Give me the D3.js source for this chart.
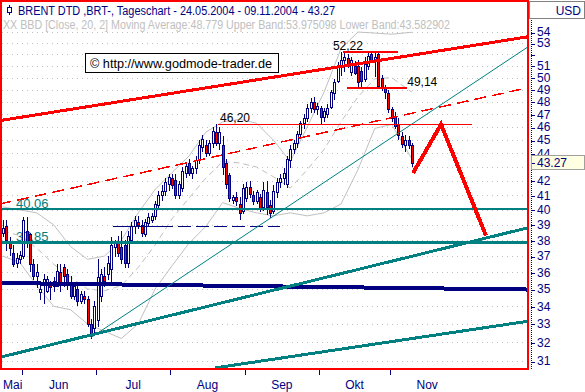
<!DOCTYPE html>
<html>
<head>
<meta charset="utf-8">
<script src="https://cdn.jsdelivr.net/npm/d3@7/dist/d3.min.js"></script>
<style>
html,body{margin:0;padding:0;background:#fff;}
svg{display:block;font-family:"Liberation Sans",Arial,Helvetica,sans-serif;}
</style>
</head>
<body>
<svg id="chart" width="585" height="392"></svg>
<script>
// ---------------- data ----------------
const title = "BRENT DTD ,BRT-, Tageschart - 24.05.2004 - 09.11.2004 - 43.27";
const subtitle = "XX BBD [Close, 20, 2] Moving Average:48.779 Upper Band:53.975098 Lower Band:43.582902";
const copyright = "\u00A9 http://www.godmode-trader.de";
const currency = "USD";
const lastPrice = 43.27;

// daily candles [open, high, low, close], 24.05.2004 .. 09.11.2004
const ohlc = [
[38.5,39.3,38.3,38.8],[38.9,39.3,37.4,38.0],[37.8,38.2,37.1,37.5],[37.2,37.7,36.4,36.5],[36.6,37.2,36.3,36.9],
[36.85,37.3,36.6,37.05],[37.0,39.5,36.9,39.3],[38.6,39.5,37.6,37.8],[38.4,38.5,36.1,36.5],[36.5,36.8,35.6,35.8],
[35.8,36.5,35.1,36.0],[34.85,35.4,34.4,35.0],[35.3,35.9,34.2,35.6],[34.9,35.8,34.8,35.6],[35.4,35.5,34.4,35.1],
[35.2,35.7,34.9,35.5],[35.2,36.5,35.2,36.1],[36.0,36.5,34.9,35.3],[36.3,36.5,35.2,35.8],[35.9,36.2,35.0,35.3],
[35.4,35.8,34.5,34.6],[34.6,35.4,34.4,35.2],[35.0,35.3,34.1,34.3],[34.3,34.9,34.2,34.7],[34.6,34.9,34.2,34.4],
[34.4,34.6,32.9,33.0],[33.0,33.3,32.25,32.4],[32.8,34.3,32.5,34.0],[33.2,36.8,32.9,35.7],[34.6,36.2,34.3,35.9],
[35.8,36.3,35.2,35.5],[35.9,37.0,35.6,36.6],[36.2,38.2,35.4,37.7],[37.6,38.0,37.0,37.8],[37.8,38.3,37.0,37.2],
[37.6,38.6,36.6,36.8],[37.7,38.0,36.3,36.6],[36.6,38.6,36.3,38.3],[38.0,39.2,37.8,38.9],[38.9,39.6,38.5,39.3],
[39.2,39.6,38.8,39.0],[39.0,39.3,38.3,38.5],[38.4,39.4,38.3,39.2],[39.1,39.8,38.9,39.5],[39.3,39.8,39.2,39.6],
[39.6,40.6,39.4,40.4],[40.3,41.3,40.1,41.0],[41.0,41.7,40.7,41.3],[41.3,42.2,41.0,41.9],[41.8,42.5,41.4,42.3],
[42.2,42.5,41.5,41.7],[42.1,42.5,40.8,41.0],[41.0,42.0,40.8,41.8],[41.5,43.0,41.3,42.7],[42.6,43.4,42.3,43.1],
[43.3,43.6,42.4,42.6],[42.6,43.1,42.2,42.9],[42.9,43.8,42.6,43.5],[43.5,45.0,43.3,44.6],[44.5,45.4,44.2,45.1],
[44.6,45.0,43.8,44.0],[44.0,45.0,43.9,44.8],[44.8,46.0,44.5,45.7],[45.6,46.2,44.6,44.8],[44.8,46.0,44.3,45.6],
[44.6,45.3,42.5,43.0],[43.3,43.6,41.5,41.8],[42.4,42.6,40.6,40.8],[40.7,41.0,40.5,40.9],[40.9,41.2,40.3,40.6],
[40.4,40.9,39.4,39.8],[39.9,41.8,39.8,41.5],[40.8,41.9,40.6,41.6],[41.6,42.0,40.9,41.1],[41.0,41.3,40.4,40.6],
[40.6,41.4,40.5,41.2],[40.9,41.1,39.9,40.1],[40.2,41.9,40.0,41.4],[41.2,42.0,39.7,40.2],[40.3,40.7,39.5,39.8],
[39.9,41.7,39.8,41.3],[41.2,42.2,40.9,41.9],[41.9,42.5,41.6,42.2],[42.2,42.9,41.8,42.6],[41.8,43.8,41.6,43.6],
[43.5,44.6,43.0,44.3],[44.3,45.0,44.0,44.8],[44.8,45.7,44.5,45.5],[45.5,46.5,45.2,46.3],[46.3,47.0,45.9,46.7],
[46.7,47.8,46.5,47.5],[47.5,48.3,47.2,48.0],[48.0,48.4,47.2,47.4],[47.4,47.9,47.0,47.7],[47.5,47.7,46.3,46.8],
[46.8,47.5,46.5,47.3],[47.0,47.8,46.8,47.5],[47.6,49.0,47.5,48.8],[48.7,49.9,48.2,49.6],[49.7,51.3,49.6,51.0],
[51.0,52.22,50.2,51.5],[51.5,52.1,50.6,51.8],[51.7,52.0,50.9,51.2],[50.5,51.8,50.2,51.5],[51.0,51.4,50.3,50.4],
[51.0,51.5,49.3,49.6],[50.6,50.9,49.3,49.7],[49.9,51.8,49.7,51.2],[51.0,52.2,50.7,51.9],[52.0,52.2,51.3,51.5],
[51.5,52.2,50.1,51.8],[52.0,52.2,49.1,49.3],[50.0,50.2,49.0,49.2],[49.1,49.4,48.3,48.8],[48.7,49.0,47.2,47.4],
[47.4,47.6,46.5,46.7],[46.8,47.2,45.9,46.1],[46.2,46.7,45.1,45.4],[45.3,45.6,44.5,44.7],[44.6,45.4,44.2,45.0],
[45.0,45.3,44.4,44.6],[44.6,44.8,43.1,43.27]
];

// Bollinger band (20, 2) at sparse bars
const bbIdx   = [0,    5,    10,   15,   20,   25,   30,   35,   40,   45,   50,   55,   60,   65,   70,   75,   80,   85,   90,   95,   100,  105,  110,  115,  121];
const bbUpper = [40.2, 40.0, 39.8, 39.0, 37.6, 36.8, 37.0, 38.0, 39.8, 41.4, 42.6, 43.8, 45.6, 46.4, 46.6, 46.3, 45.0, 43.4, 46.0, 48.8, 52.5, 54.0, 53.9, 53.8, 53.98];
const bbMid   = [38.6, 38.3, 37.5, 36.5, 35.7, 35.0, 34.9, 35.2, 36.3, 37.7, 39.4, 40.8, 42.2, 43.4, 43.3, 43.0, 42.3, 41.5, 42.8, 44.3, 46.4, 48.4, 49.9, 50.0, 48.78];
const bbLower = [37.0, 36.6, 35.2, 34.0, 33.8, 33.0, 32.6, 32.2, 33.0, 35.0, 36.4, 37.8, 38.9, 40.5, 40.1, 39.8, 39.6, 39.8, 39.6, 39.8, 40.4, 42.8, 45.9, 46.2, 43.58];

// price axis
const priceTicks = d3.range(31, 55);
const hiddenTickLabels = [52, 43];

// month axis (bar index)
const monthNames    = ["Mai", "Jun", "Jul", "Aug", "Sep", "Okt", "Nov"];
const monthLabelIdx = [0, 16.5, 38.5, 60.5, 82.5, 104, 125.5];
const monthTickIdx  = [5.5, 27.5, 49.5, 71.5, 93.5, 114.5];

// drawn lines: [bar index, price]
const redChannel     = [[-1, 46.5], [156, 53.6]];
const redDashed      = [[-1, 40.4], [156, 49.2]];
const tealThin       = [[26, 32.25], [156, 52.8]];
const tealLow        = [[-1, 31.19], [156, 38.85]];
const tealLow2       = [[62.7, 30.64], [156, 33.17]];
const navyAverage    = [[-1, 35.36], [156, 34.97]];
const projection     = [[121.3, 42.57], [129.6, 46.2], [142.9, 38.3]];

const redLevels      = [46.20, 52.22, 49.14];
const redLevelFrom   = [63.6, 100.6, 101.8];
const redLevelTo     = [138.8, 116.9, 119.5];
const redLevelText   = ["46,20", "52,22", "49,14"];
const redLabelIdx    = [64.2, 97.6, 119.6];

const tealLevels     = [40.06, 37.85];
const tealLevelText  = ["40.06", "37.85"];
const tealLevelWidth = [1.5, 3];

const navyDashLevel  = 38.88;
const navyDashSolid  = [32.5, 46.4];
const navyDashDashed = [46.4, 82];

// ---------------- drawing ----------------
const NAVY = "#000080", RED = "#ff0000", TEAL = "#008080", GRAY = "#c0c0c0";
const svg = d3.select("#chart");
const x = d3.scaleLinear().domain([0, 155]).range([3, 3 + 155 * 3.38]);
const y = d3.scaleLog().domain([31, 54]).range([361, 32]);
const px = v => Math.round(v) + 0.5;

svg.append("rect").attr("width", 585).attr("height", 392).attr("fill", "#fff");

svg.append("clipPath").attr("id", "clip")
  .append("rect").attr("x", 2).attr("y", 2).attr("width", 525).attr("height", 366);

const plot = svg.append("g").attr("clip-path", "url(#clip)");

// grid
plot.selectAll("line.grid").data(priceTicks).join("line")
  .attr("x1", 2).attr("x2", 527)
  .attr("y1", d => px(y(d))).attr("y2", d => px(y(d)))
  .attr("stroke", GRAY).attr("stroke-dasharray", "1,4");

// Bollinger bands
const lineIdx = (vals) => d3.line().x((d, i) => x(bbIdx[i])).y(d => y(d))(vals);
plot.append("path").attr("d", lineIdx(bbUpper)).attr("fill", "none").attr("stroke", GRAY);
plot.append("path").attr("d", lineIdx(bbLower)).attr("fill", "none").attr("stroke", GRAY);
plot.append("path").attr("d", lineIdx(bbMid)).attr("fill", "none").attr("stroke", GRAY).attr("stroke-dasharray", "6,4");

// teal level labels (behind candles)
plot.selectAll("text.tl").data(tealLevels).join("text")
  .attr("x", 16).attr("y", d => y(d) - 1.5)
  .attr("fill", TEAL).attr("font-size", 13).text((d, i) => tealLevelText[i]);

// candles
const cg = plot.append("g").attr("shape-rendering", "crispEdges");
ohlc.forEach((c, i) => {
  const [o, h, l, cl] = c;
  const cx = Math.round(x(i));
  cg.append("line").attr("x1", cx + 0.5).attr("x2", cx + 0.5)
    .attr("y1", Math.round(y(h))).attr("y2", Math.round(y(l)) + 1)
    .attr("stroke", NAVY);
  const top = Math.round(y(Math.max(o, cl))), bot = Math.round(y(Math.min(o, cl)));
  cg.append("rect").attr("x", cx - 0.5).attr("width", 2)
    .attr("y", top + 0.5).attr("height", Math.max(1, bot - top))
    .attr("fill", cl < o ? RED : "#fff").attr("stroke", NAVY);
});

// helper for [idx, price] lines
const pline = d3.line().x(d => x(d[0])).y(d => y(d[1]));
function drawLine(pts, color, width, dash, crisp) {
  const p = plot.append("path").attr("d", pline(pts)).attr("fill", "none")
    .attr("stroke", color).attr("stroke-width", width);
  if (dash) p.attr("stroke-dasharray", dash);
  if (crisp) p.attr("shape-rendering", "crispEdges");
  return p;
}

// horizontal teal levels
tealLevels.forEach((v, i) => {
  plot.append("line").attr("x1", 2).attr("x2", 527)
    .attr("y1", y(v)).attr("y2", y(v))
    .attr("stroke", TEAL).attr("stroke-width", tealLevelWidth[i]).attr("shape-rendering", "crispEdges");
});

// navy dashed support
drawLine([[navyDashSolid[0], navyDashLevel], [navyDashSolid[1], navyDashLevel]], NAVY, 1, null, true);
drawLine([[navyDashDashed[0], navyDashLevel], [navyDashDashed[1], navyDashLevel]], NAVY, 1, "13,5", true);

// trend lines
drawLine(navyAverage, NAVY, 4, null, true);
drawLine(tealThin, TEAL, 1, null, false);
drawLine(tealLow, TEAL, 3, null, true);
drawLine(tealLow2, TEAL, 3, null, true);
drawLine(redDashed, RED, 1.5, "12,6", true);
drawLine(redChannel, RED, 3, null, true);

// red levels with labels
redLevels.forEach((v, i) => {
  drawLine([[redLevelFrom[i], v], [redLevelTo[i], v]], RED, 1.3, null, true);
  plot.append("text").attr("x", x(redLabelIdx[i])).attr("y", y(v) - 2)
    .attr("fill", "#000").attr("font-size", 12).text(redLevelText[i]);
});

// projection zig-zag
plot.append("path").attr("d", pline(projection)).attr("fill", "none")
  .attr("stroke", RED).attr("stroke-width", 4).attr("stroke-linejoin", "miter")
  .attr("shape-rendering", "crispEdges");

// copyright box
svg.append("rect").attr("x", 85.5).attr("y", 53.5).attr("width", 193).attr("height", 19)
  .attr("fill", "#fff").attr("stroke", "#000");
svg.append("text").attr("x", 90).attr("y", 67.5).attr("font-size", 13).attr("fill", "#000")
  .attr("textLength", 182).attr("lengthAdjust", "spacingAndGlyphs").text(copyright);

// frame
svg.append("rect").attr("x", 1).attr("y", 1).attr("width", 527).attr("height", 368)
  .attr("fill", "none").attr("stroke", RED).attr("stroke-width", 2).attr("shape-rendering", "crispEdges");

// header
const hs = svg.append("g").attr("stroke", NAVY).attr("fill", "none").attr("shape-rendering", "crispEdges");
hs.append("line").attr("x1", 9.5).attr("x2", 9.5).attr("y1", 5).attr("y2", 15);
hs.append("rect").attr("x", 7.5).attr("y", 7.5).attr("width", 4).attr("height", 5).attr("fill", "#fff");
svg.append("text").attr("x", 18).attr("y", 15).attr("font-size", 12).attr("fill", NAVY)
  .attr("textLength", 317).attr("lengthAdjust", "spacingAndGlyphs").text(title);
svg.append("text").attr("x", 3).attr("y", 28.5).attr("font-size", 12).attr("fill", GRAY)
  .attr("textLength", 447).attr("lengthAdjust", "spacingAndGlyphs").text(subtitle);

// right axis
svg.append("rect").attr("x", 529.5).attr("y", 1.5).attr("width", 55).attr("height", 17)
  .attr("fill", "#fff").attr("stroke", "#808080");
svg.append("text").attr("x", 581).attr("y", 14.5).attr("text-anchor", "end")
  .attr("font-size", 12).attr("fill", NAVY).text(currency);
svg.append("line").attr("x1", 531.5).attr("x2", 531.5).attr("y1", 20).attr("y2", 370)
  .attr("stroke", NAVY).attr("stroke-dasharray", "1,1");

const yAxis = d3.axisRight(y).tickValues(priceTicks)
  .tickFormat(d => hiddenTickLabels.includes(d) ? "" : d3.format("d")(d))
  .tickSizeInner(4).tickSizeOuter(0).tickPadding(2);
const ya = svg.append("g").attr("transform", "translate(531,0)").call(yAxis);
ya.select(".domain").remove();
ya.selectAll(".tick line").attr("stroke", NAVY).attr("shape-rendering", "crispEdges")
  .attr("transform", "translate(0,0.5)");
ya.selectAll(".tick text").attr("fill", NAVY).attr("font-size", 12)
  .attr("font-family", "Liberation Sans, Arial, sans-serif");

// last price marker
const ly = y(lastPrice);
svg.append("rect").attr("x", 531.5).attr("y", Math.round(ly) - 7.5).attr("width", 53).attr("height", 14)
  .attr("fill", "#ffffe1").attr("stroke", "#a0a0a0");
svg.append("line").attr("x1", 532).attr("x2", 535).attr("y1", Math.round(ly) + 0.5).attr("y2", Math.round(ly) + 0.5)
  .attr("stroke", NAVY);
svg.append("text").attr("x", 537).attr("y", ly).attr("dy", "0.32em").attr("font-size", 12)
  .attr("fill", NAVY).text(d3.format(".2f")(lastPrice));

// bottom axis
const xAxis = d3.axisBottom(x).tickValues(monthTickIdx).tickFormat("").tickSizeInner(5).tickSizeOuter(0);
const xa = svg.append("g").attr("transform", "translate(0,370)").call(xAxis);
xa.select(".domain").remove();
xa.selectAll(".tick line").attr("stroke", NAVY).attr("shape-rendering", "crispEdges");
svg.selectAll("text.month").data(monthNames).join("text")
  .attr("x", (d, i) => i === 0 ? 3 : x(monthLabelIdx[i]))
  .attr("text-anchor", (d, i) => i === 0 ? "start" : "middle")
  .attr("y", 388.5).attr("font-size", 12).attr("fill", NAVY).text(d => d);
</script>
</body>
</html>
